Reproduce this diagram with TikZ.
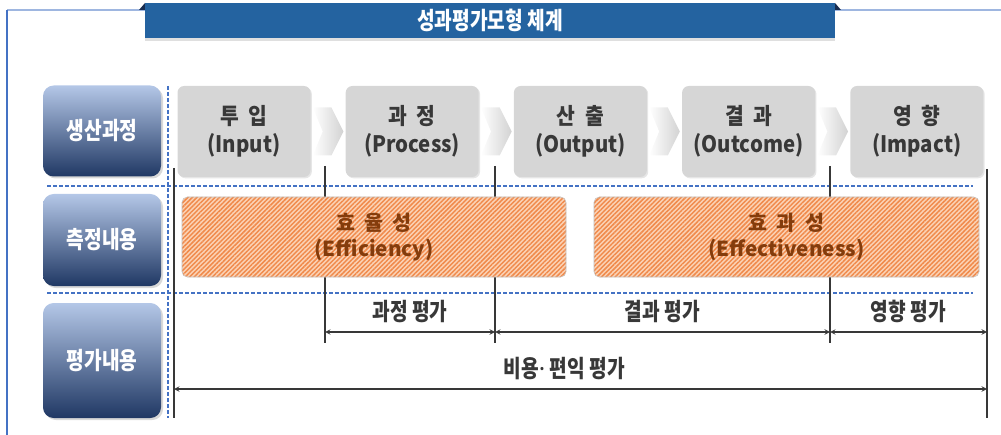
\documentclass[tikz,border=0pt]{standalone}
\usepackage{fontspec}
\setmainfont{Noto Sans CJK KR}
\newfontfamily\condfont{Noto Sans CJK KR}[FakeStretch=0.8]
\newfontfamily\stagefont{Noto Sans CJK KR}[FakeStretch=0.9]
\newfontfamily\latinfont{Noto Sans}
\usepackage{tikz}
\usetikzlibrary{shapes,arrows}
\usetikzlibrary{positioning,calc,shadows,patterns.meta}
\definecolor{navy}{HTML}{203864}
\definecolor{paleblue}{HTML}{B4C7E7}
\definecolor{bannerblue}{HTML}{2463A0}
\definecolor{dashblue}{HTML}{4472C4}
\definecolor{stagegray}{HTML}{D6D6D6}
\definecolor{rust}{HTML}{843C0C}
\definecolor{peach}{HTML}{FBD3B6}
\definecolor{stripe}{HTML}{F08A4B}
\definecolor{ink}{HTML}{383838}
\tikzstyle{arrow} = [thick,<->,>=stealth,draw=ink]
\tikzstyle{rowlbl} = [
    rectangle, rounded corners=8pt, minimum width=88.5pt, top color=paleblue,
    bottom color=navy, text=white, font=\condfont\fontsize{18}{20}\selectfont\bfseries,
    drop shadow={opacity=0.3, shadow xshift=1.5pt, shadow yshift=-1.5pt}]
\tikzstyle{stage} = [
    rectangle, rounded corners=5pt, minimum width=99.75pt, minimum height=68.25pt,
    fill=stagegray, text=ink, align=center, font=\stagefont\fontsize{17}{21}\selectfont\bfseries,
    drop shadow={opacity=0.2, shadow xshift=1pt, shadow yshift=-1pt}]
\tikzstyle{measure} = [
    rectangle, rounded corners=4pt, minimum height=60pt, draw=gray!50,
    preaction={fill=peach}, pattern={Lines[angle=45,distance=2.4pt,line width=1.1pt]},
    pattern color=stripe, text=rust, align=center, font=\fontsize{15.5}{20}\selectfont\bfseries]
\tikzstyle{divider} = [dashblue, dash pattern=on 3pt off 1.5pt, line width=0.8pt]
\tikzstyle{tick} = [ink, line width=1pt]
\tikzstyle{chev} = [left color=white, right color=gray!35]
\tikzstyle{evaltxt} = [font=\condfont\fontsize{18}{20}\selectfont\bfseries, text=ink]

\begin{document}
\begin{tikzpicture}[x=0.75pt,y=-0.75pt]
\useasboundingbox (0,0) rectangle (1001,435);
% frame
\draw[line width=1pt, paleblue!80!dashblue] (7,10) -- (1001,10);
\draw[line width=1pt, dashblue] (7,10) -- (7,435);

% title banner
\fill[navy!80!black] (139,10) -- (145,3) -- (145,10) -- cycle;
\fill[navy!80!black] (835,3) -- (841,10) -- (835,10) -- cycle;
\fill[gray!25] (145,38) rectangle (835,41);
\node (title) [rectangle, fill=bannerblue, minimum width=517.5pt, minimum height=26.25pt,
    text=white, font=\condfont\fontsize{18}{20}\selectfont\bfseries] at (490,20.5) {성과평가모형 체계};

% row labels
\node (prodlbl) [rowlbl, minimum height=68.25pt] at (102,131) {생산과정};
\node (measlbl) [rowlbl, minimum height=69pt] at (102,240) {측정내용};
\node (evallbl) [rowlbl, minimum height=86.25pt] at (102,360.5) {평가내용};

\draw[divider] (168,86) -- (168,418);
\draw[divider] (47,186) -- (973,186);
\draw[divider] (47,293) -- (973,293);

% stages
\node (input) [stage] at (244,131.5) {투~~입\\(Input)};
\node (process) [stage, right=26pt of input] {과~~정\\(Process)};
\node (output) [stage, right=26pt of process] {산~~출\\(Output)};
\node (outcome) [stage, right=26pt of output] {결~~과\\(Outcome)};
\node (impact) [stage, right=26pt of outcome] {영~~향\\(Impact)};

\foreach \a/\b in {input/process, process/output, output/outcome, outcome/impact}
  \shade[chev] ($(\a.east)+(2,-24)$) -- ($(\b.west)+(-14,-24)$) -- ($(\b.west)+(-2,0)$)
    -- ($(\b.west)+(-14,24)$) -- ($(\a.east)+(2,24)$) -- ($(\a.east)+(12,0)$) -- cycle;

% ticks
\coordinate (t0) at (174,168); \coordinate (b0) at (174,418);
\coordinate (t1) at (325,166); \coordinate (b1) at (325,343);
\coordinate (t2) at (495,166); \coordinate (b2) at (495,343);
\coordinate (t3) at (830,166); \coordinate (b3) at (830,343);
\coordinate (t4) at (987,169); \coordinate (b4) at (987,418);
\foreach \i in {0,...,4}
  \draw[tick] (t\i) -- (b\i);

% measures
\node (effic) [measure, minimum width=288pt] at (374,237) {효~~율~~성\\(Efficiency)};
\node (effect) [measure, minimum width=288.75pt] at (786.5,237) {효~~과~~성\\(Effectiveness)};

% evaluation spans
\coordinate (row1) at (0,332);
\coordinate (row2) at (0,389);
\draw[arrow] (t1 |- row1) -- node[evaltxt, above=3pt] (evproc) {과정 평가} (t2 |- row1);
\draw[arrow] (t2 |- row1) -- node[evaltxt, above=3pt] (evres) {결과 평가} (t3 |- row1);
\draw[arrow] (t3 |- row1) -- node[evaltxt, above=3pt] (evimp) {영향 평가} (t4 |- row1);
\draw[arrow] (t0 |- row2) -- node[evaltxt, above=3pt, pos=0.48] (evcost) {비용{\latinfont·} 편익 평가} (t4 |- row2);
\end{tikzpicture}
\end{document}
